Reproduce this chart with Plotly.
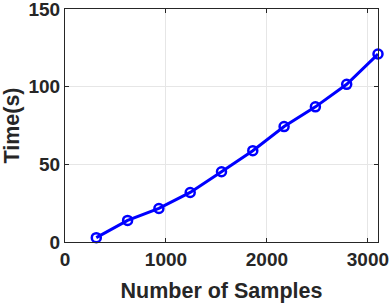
import plotly.graph_objects as go

num_samples = [310, 620, 930, 1240, 1550, 1860, 2170, 2480, 2790, 3100]
time_s = [2.8, 13.9, 21.6, 31.9, 45.2, 58.8, 74.3, 87.0, 101.5, 121.0]
x_ticks = [0, 1000, 2000, 3000]
y_ticks = [0, 50, 100, 150]

FONT = "Liberation Sans, Arial, sans-serif"

fig = go.Figure()
fig.add_trace(go.Scatter(
    x=num_samples, y=time_s, mode="lines+markers",
    line=dict(color="#0000FF", width=3),
    marker=dict(symbol="circle-open", size=9, color="#0000FF", line=dict(width=2.5, color="#0000FF")),
    cliponaxis=False,
))

axis_common = dict(
    showline=True, linecolor="#262626", linewidth=1, mirror="ticks",
    ticks="inside", ticklen=4, tickcolor="#262626",
    showgrid=True, gridcolor="#e6e6e6", gridwidth=1, zeroline=False,
    automargin=False, ticklabeloverflow="allow",
    tickfont=dict(family=FONT, size=19, color="#262626", weight="bold"),
)

fig.update_xaxes(range=[0, 3100], tickvals=x_ticks, ticktext=[str(v) for v in x_ticks],
                 title=dict(text="Number of Samples",
                            font=dict(family=FONT, size=21.5, color="#262626", weight="bold")),
                 **axis_common)
fig.update_yaxes(range=[0, 150.001], tickvals=y_ticks, ticktext=[str(v) for v in y_ticks],
                 title=dict(text="Time(s)",
                            font=dict(family=FONT, size=21.5, color="#262626", weight="bold")),
                 **axis_common)

fig.update_layout(
    width=391, height=303,
    margin=dict(l=65, r=13, t=9, b=61),
    plot_bgcolor="white", paper_bgcolor="white",
    showlegend=False,
)
fig.write_html("out.html", config={"displayModeBar": False},
               post_script="document.body.style.margin='0';")
